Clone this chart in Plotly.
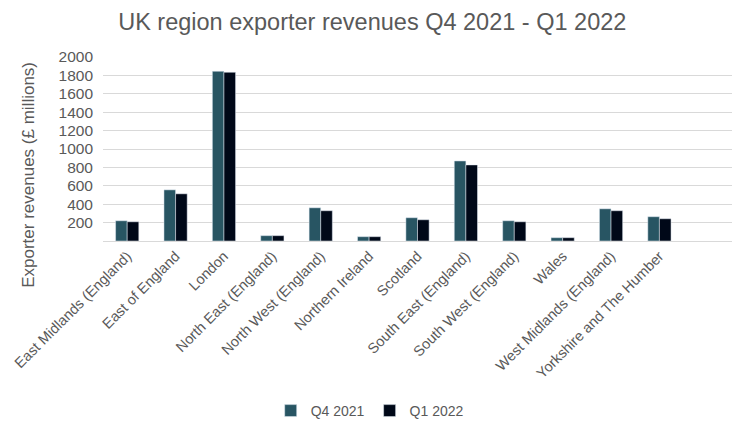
import plotly.graph_objects as go

regions = [
    "East Midlands (England)", "East of England", "London",
    "North East (England)", "North West (England)", "Northern Ireland",
    "Scotland", "South East (England)", "South West (England)", "Wales",
    "West Midlands (England)", "Yorkshire and The Humber",
]
q4_2021 = [220, 556, 1845, 58, 361, 47, 253, 870, 220, 36, 350, 264]
q1_2022 = [209, 513, 1834, 58, 329, 47, 231, 827, 209, 36, 329, 242]
y_ticks = [200, 400, 600, 800, 1000, 1200, 1400, 1600, 1800, 2000]

grey = "#595959"

fig = go.Figure()
fig.add_trace(go.Bar(x=regions, y=q4_2021, name="Q4 2021", marker_color="#285563"))
fig.add_trace(go.Bar(x=regions, y=q1_2022, name="Q1 2022", marker_color="#000818"))

# page has an 8px body margin, so margins are trimmed to land the plot where the original sits
fig.update_layout(
    width=748, height=436,
    margin=dict(l=95, r=24, t=49, b=203),
    paper_bgcolor="white", plot_bgcolor="white",
    font=dict(family="Liberation Sans, Arial, sans-serif", color=grey, size=14),
    title=dict(text="UK region exporter revenues Q4 2021 - Q1 2022",
               x=0.487, xanchor="center", y=0.968, yanchor="middle",
               font=dict(size=23.5, color=grey)),
    barmode="group", bargap=0.52, bargroupgap=0,
    legend=dict(orientation="h", x=0.424, xanchor="center", y=-0.924, yanchor="middle",
                font=dict(size=14, color=grey), itemwidth=30, tracegroupgap=0),
    showlegend=True,
)
# y title sits lower than the axis middle in the original, so it's an annotation
fig.add_annotation(
    text="Exporter revenues (£ millions)", textangle=-90,
    xref="paper", yref="paper", x=-0.1176, y=0.36,
    xanchor="center", yanchor="middle", showarrow=False,
    font=dict(size=17, color=grey),
)
fig.update_xaxes(
    range=[-0.5, 12.5], tickangle=-45, ticks="", showgrid=False, automargin=False,
    showline=True, linecolor="#d9d9d9", linewidth=1,
    tickfont=dict(size=14.5, color=grey),
)
fig.update_yaxes(
    range=[0, 2000], tickvals=y_ticks, showgrid=True, gridcolor="#d9d9d9",
    zeroline=False, ticks="", automargin=False, ticklabelstandoff=9,
    tickfont=dict(size=15.5, color=grey),
)

fig.write_html("out.html")
